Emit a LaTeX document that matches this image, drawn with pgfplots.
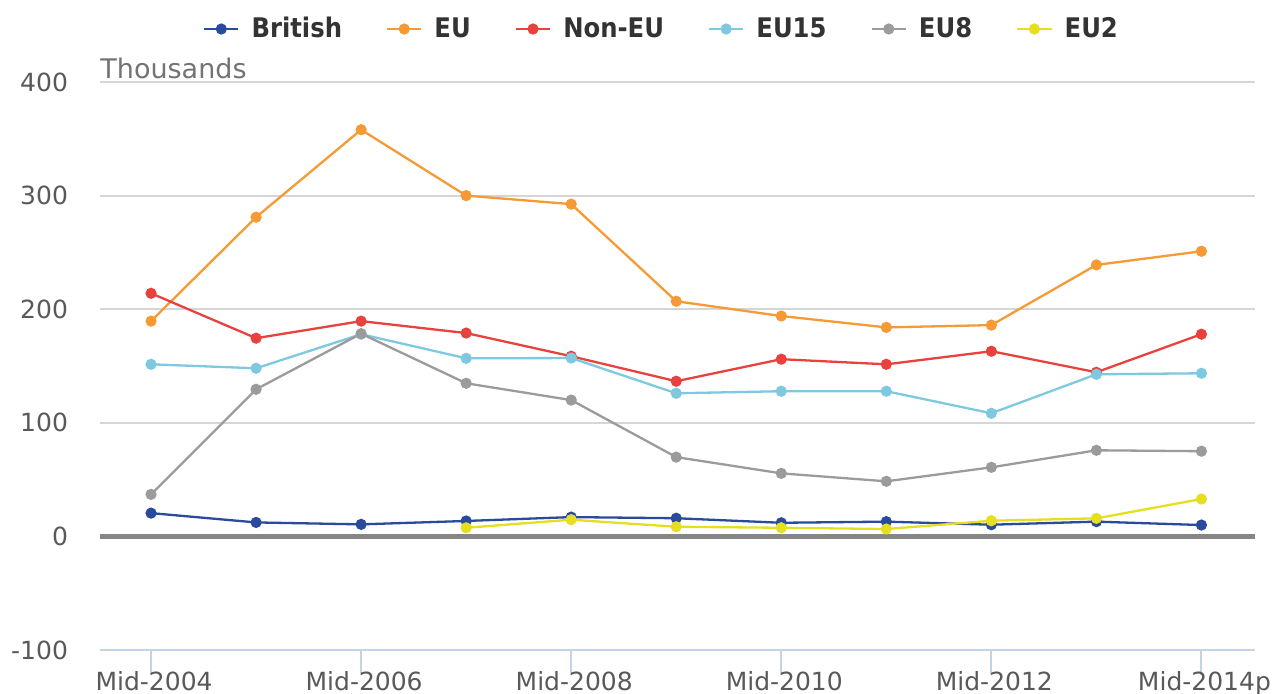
\documentclass[border=0pt]{standalone}
\usepackage{fontspec}
\setmainfont{DejaVu Sans}
\newfontfamily\legfont{DejaVu Sans Condensed}
\usepackage{pgfplots}
\usepackage{pgfplotstable}
\pgfplotsset{compat=1.18}
\definecolor{cBrit}{HTML}{2A4B9B}
\definecolor{cEU}{HTML}{F59A35}
\definecolor{cNon}{HTML}{E8423F}
\definecolor{cEU15}{HTML}{7EC8E0}
\definecolor{cEU8}{HTML}{9B9B9B}
\definecolor{cEU2}{HTML}{E5DF1F}
\definecolor{tickc}{HTML}{595959}
\definecolor{axc}{HTML}{C5D4E4}
\pgfplotstableread{
x British EU NonEU EU15 EU8
0 20.5 189.5 214 151.5 37
1 12.3 281 174.5 148 129.5
2 10.6 358 189.5 178 178.5
3 13.6 300 179 156.8 134.8
4 17 292.5 158.6 157 120
5 16 207 136.6 126 69.8
6 12 194 156 127.8 55.5
7 13 184 151.5 127.8 48.5
8 10.3 186 163 108.4 60.8
9 13 239 144.5 142.7 75.8
10 10 251 178 143.6 75
}\main
\pgfplotstableread{
x EU2
3 7.6
4 14.7
5 8.5
6 7.6
7 6.5
8 13.8
9 15.9
10 32.9
}\eutwo
\begin{document}
\begin{tikzpicture}
\begin{axis}[
  scale only axis,
  width=577.5pt, height=284pt,
  xmin=-0.486, xmax=10.51,
  ymin=-100, ymax=400,
  axis x line*=bottom,
  axis y line*=left,
  x axis line style={draw=axc, line width=1pt},
  y axis line style={draw=none},
  xtick={0,2,...,10},
  xticklabels={Mid-2004,Mid-2006,Mid-2008,Mid-2010,Mid-2012,Mid-2014p},
  xtick style={draw=axc, line width=1pt},
  tick align=outside,
  major tick length=12.5pt,
  ytick={-100,100,200,300,400},
  ytick style={draw=none},
  extra y ticks={0},
  extra y tick style={grid style={draw=gray!95, line width=2.5pt}},
  ymajorgrids,
  grid style={draw=black!16, line width=0.9pt},
  /pgf/number format/assume math mode=true,
  ticklabel style={font=\fontsize{12.5}{14}\selectfont, text=tickc},
  xticklabel style={yshift=5.5pt, xshift=1.5pt},
  yticklabel style={xshift=0pt},
  legend columns=6,
  legend style={at={(axis description cs:0.487,1)}, anchor=center, yshift=26.5pt,
    draw=none, fill=none, font=\legfont\bfseries\fontsize{13.5}{16}\selectfont,
    text=black!80,
    /tikz/every odd column/.append style={column sep=4pt},
    /tikz/every even column/.append style={column sep=20pt}},
  legend cell align=left,
  every axis plot/.append style={line width=1.15pt, mark=*, mark size=2.2pt},
  clip=false,
]
\addplot[cBrit, mark options={fill=cBrit}] table[x=x,y=British]{\main};
\addlegendentry{British}
\addplot[cEU, mark options={fill=cEU}] table[x=x,y=EU]{\main};
\addlegendentry{EU}
\addplot[cNon, mark options={fill=cNon}] table[x=x,y=NonEU]{\main};
\addlegendentry{Non-EU}
\addplot[cEU15, mark options={fill=cEU15}] table[x=x,y=EU15]{\main};
\addlegendentry{EU15}
\addplot[cEU8, mark options={fill=cEU8}] table[x=x,y=EU8]{\main};
\addlegendentry{EU8}
\addplot[cEU2, mark options={fill=cEU2}] table[x=x,y=EU2]{\eutwo};
\addlegendentry{EU2}
\node[anchor=base west, inner sep=0pt, text=black!55, font=\fontsize{13.5}{16}\selectfont] at ([yshift=2pt]rel axis cs:0,1) {Thousands};
\end{axis}
\pgfresetboundingbox
\path[use as bounding box] (-50pt,-21.5pt) rectangle (587pt,325pt);
\end{tikzpicture}
\end{document}
